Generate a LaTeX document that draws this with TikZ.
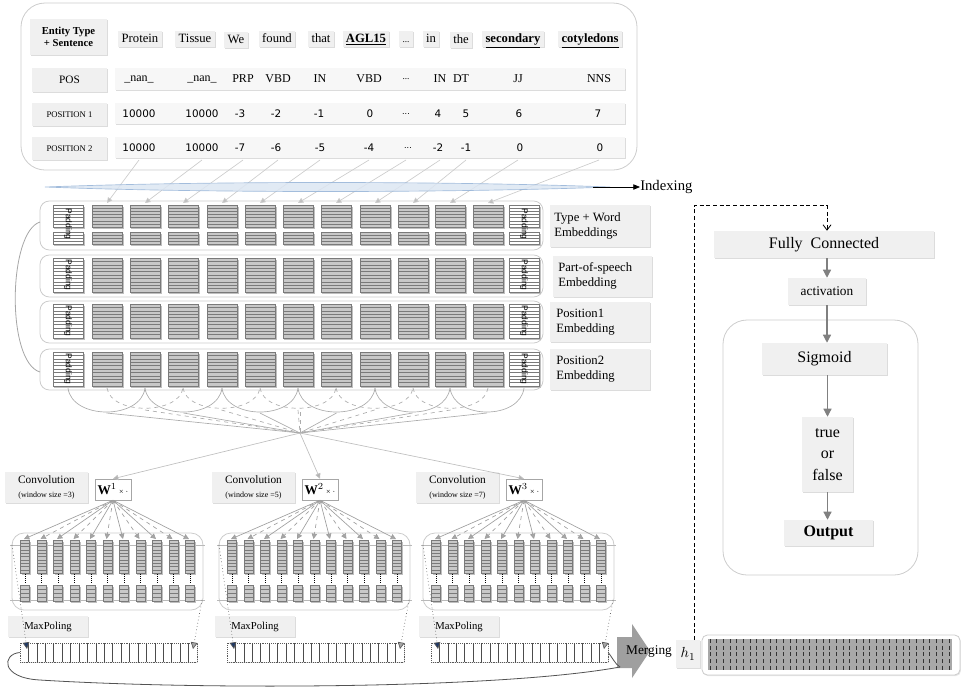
\documentclass[tikz,border=0pt]{standalone}
\usepackage{fontspec}
\setmainfont{Liberation Serif}
\newfontfamily\numfont{DejaVu Sans}
\newfontfamily\padfont{Liberation Sans}
\usetikzlibrary{shadows,arrows.meta,calc}
\definecolor{lblfill}{HTML}{F0F0F0}
\definecolor{stripfill}{HTML}{F7F7F7}
\definecolor{blk}{HTML}{C8C8C8}
\definecolor{blkline}{HTML}{7A7A7A}
\definecolor{arrc}{HTML}{808080}
\definecolor{idxfill}{HTML}{DCE6F2}
\definecolor{idxline}{HTML}{95B3D7}
\definecolor{vecfill}{HTML}{A8A8A8}
\definecolor{navyc}{HTML}{1F3864}
\newcommand{\FS}[2]{\fontsize{#1}{#2}\selectfont}
\newcommand{\StripeBox}[6]{%
  \fill[black!25] (#1+1,#2+2) rectangle (#3+1.5,#4+2);
  \filldraw[fill=#5,draw=blkline,line width=0.35pt] (#1,#2) rectangle (#3,#4);
  \foreach \kk in {1,...,#6}{\draw[blkline,line width=0.3pt] (#1,{#2+\kk*(#4-#2)/(#6+1)}) -- (#3,{#2+\kk*(#4-#2)/(#6+1)});}%
}
% box node from corner (#2,#3) to (#4,#5) in pixel units
\newcommand{\Bx}[7]{\node[#6,minimum width={(#4-(#2))*0.75pt},minimum height={(#5-(#3))*0.75pt}] (#1) at ({(#2+#4)/2},{(#3+#5)/2}) {#7};}
\begin{document}
\begin{tikzpicture}[x=0.75pt,y=-0.75pt,
  shd/.style={drop shadow={shadow xshift=0.7pt,shadow yshift=-0.9pt,opacity=0.28}},
  lbl/.style={fill=lblfill,inner sep=0pt,align=center,shd},
  wbox/.style={fill=lblfill,inner xsep=2.5pt,inner ysep=1.5pt,text height=7pt,text depth=2pt,font=\FS{9.5}{11},shd},
  strip/.style={fill=stripfill,inner sep=0pt,shd},
  panelc/.style={draw=gray!40,line width=0.6pt},
  garrow/.style={draw=arrc,line width=0.9pt,-{Triangle[length=6pt,width=6pt]}},
  idxarrow/.style={draw=gray!40,line width=0.5pt,-{Triangle[length=4pt,width=4pt,fill=gray!55]}},
  fanarrow/.style={draw=gray!75,line width=0.5pt,-{Triangle[length=4pt,width=4pt,fill=gray!70]}},
  cvline/.style={draw=gray!65,line width=0.5pt},
  val/.style={inner sep=0pt,font=\FS{9}{10}},
  num/.style={inner sep=0pt,font=\numfont\FS{7.8}{9}},
  padtxt/.style={rotate=-90,inner sep=0pt,font=\padfont\FS{6.3}{7}},
  etxt/.style={anchor=west,inner sep=0pt,align=left,font=\FS{9.5}{11.5}}
]
\useasboundingbox (0,0) rectangle (966,693);

% ---------------- top panel ----------------
\draw[panelc,rounded corners=18pt] (21,3) rectangle (637,170);
\foreach \sx/\tx [count=\i] in {139/107,202/145,243/183,278/222,320/260,369/298,406/336,440/375,466/413,518/450,599/488}{
  \coordinate (s\i) at (\sx,160);
  \coordinate (ct\i) at (\tx,203);
  \draw[idxarrow] (s\i) -- (ct\i);
}
\filldraw[fill=idxfill,draw=idxline,line width=0.5pt,opacity=0.85] (45,187) .. controls (200,181) and (450,181) .. (610,187) .. controls (450,193) and (200,193) .. (45,187);
\coordinate (idxr) at (593,187);
\node[anchor=west,inner sep=0pt,font=\FS{11}{13}] (indexing) at (640,187) {Indexing};
\draw[black,line width=0.6pt,-{Triangle[length=5pt,width=4pt]}] (idxr) -- (indexing.west);

\Bx{etype}{30}{19}{107}{55}{lbl,font=\bfseries\FS{8}{9.5}}{Entity Type\\+ Sentence}
\node[wbox] (w1) at (140,39) {Protein};
\node[wbox] (w2) at (195,39) {Tissue};
\node[wbox] (w3) at (236,40) {We};
\node[wbox] (w4) at (277,39) {found};
\node[wbox] (w5) at (321,39) {that};
\node[wbox] (w6) at (366,39) {\textbf{\underline{AGL15}}};
\node[wbox] (w7) at (406,39) {\FS{7}{8}...};
\node[wbox] (w8) at (431,39) {in};
\node[wbox] (w9) at (461,40) {the};
\node[wbox] (w10) at (513,39) {\textbf{\underline{secondary}}};
\node[wbox] (w11) at (590,39) {\textbf{\underline{cotyledons}}};

\Bx{poslbl}{32}{68}{107}{92}{lbl,font=\FS{8.5}{10}}{POS}
\Bx{p1lbl}{32}{103}{107}{126}{lbl,font=\FS{6.5}{8}}{POSITION\ 1}
\Bx{p2lbl}{32}{137}{107}{160}{lbl,font=\FS{6.5}{8}}{POSITION\ 2}
\Bx{posrow}{115}{68}{625}{90}{strip}{}
\Bx{p1row}{115}{103}{625}{124}{strip}{}
\Bx{p2row}{115}{137}{625}{158}{strip}{}
\foreach \x/\t in {139/\_nan\_,202/\_nan\_,243/PRP,278/VBD,320/IN,369/VBD,440/IN,461/DT,518/JJ,599/NNS}{
  \node[val] at (\x,79) {\t};
}
\node[val,font=\FS{7}{8}] (posdots) at (406,79) {...};
\foreach \x/\t in {139/10000,202/10000,240/-3,276/-2,319/-1,370/0,438/4,466/5,519/6,598/7}{
  \node[num] at (\x,114) {\t};
}
\node[num,font=\numfont\FS{6}{7}] (p1dots) at (406,114) {...};
\foreach \x/\t in {139/10000,202/10000,240/-7,276/-6,320/-5,369/-4,438/-2,466/-1,520/0,600/0}{
  \node[num] at (\x,148) {\t};
}
\node[num,font=\numfont\FS{6}{7}] (p2dots) at (408,148) {...};

% ---------------- embeddings ----------------
\draw[panelc,rounded corners=7pt] (40,201) rectangle (543,250);
\draw[panelc,rounded corners=7pt] (40,255) rectangle (543,297);
\draw[panelc,rounded corners=7pt] (40,301) rectangle (543,343);
\draw[panelc,rounded corners=7pt] (40,349) rectangle (543,390);
\foreach \cx in {107,145,183,222,260,298,336,375,413,450,488}{
  \StripeBox{\cx-15}{205}{\cx+15}{227}{blk}{6}
  \StripeBox{\cx-15}{232}{\cx+15}{244}{blk}{3}
  \StripeBox{\cx-15}{258}{\cx+15}{292}{blk}{9}
  \StripeBox{\cx-15}{304}{\cx+15}{338}{blk}{9}
  \StripeBox{\cx-15}{352}{\cx+15}{386}{blk}{9}
}
\foreach \cx in {68,524}{
  \StripeBox{\cx-15}{205}{\cx+15}{227}{white}{6}
  \StripeBox{\cx-15}{232}{\cx+15}{244}{white}{3}
  \StripeBox{\cx-15}{258}{\cx+15}{292}{white}{9}
  \StripeBox{\cx-15}{304}{\cx+15}{338}{white}{9}
  \StripeBox{\cx-15}{352}{\cx+15}{386}{white}{9}
  \node[padtxt] at (\cx,224) {Padding};
  \node[padtxt] at (\cx,275) {Padding};
  \node[padtxt] at (\cx,321) {Padding};
  \node[padtxt] at (\cx,369) {Padding};
}
\Bx{e1}{550}{205}{650}{247}{lbl}{}
\Bx{e2}{553}{256}{652}{297}{lbl}{}
\Bx{e3}{550}{302}{650}{342}{lbl}{}
\Bx{e4}{550}{349}{650}{390}{lbl}{}
\node[etxt] (e1t) at (554,226) {Type + Word\\Embeddings};
\node[etxt] (e2t) at (558,276) {Part-of-speech\\Embedding};
\node[etxt] (e3t) at (556,322) {Position1\\Embedding};
\node[etxt] (e4t) at (556,369) {Position2\\Embedding};
\draw[gray!70,line width=0.6pt] (40,222) .. controls (8,232) and (6,362) .. (40,372);

% arcs under embeddings
\coordinate (cv) at (300,433);
\foreach \a/\bb in {68/145,145/222,222/298,298/375,375/450,450/524}{
  \draw[cvline] (\a,388) .. controls (\a+4,420) and (\bb-4,420) .. (\bb,388);
  \coordinate (sb) at ({(\a+\bb)/2},413);
  \draw[cvline] (sb) -- (cv);
}
\foreach \a/\bb in {107/183,183/260,260/336,336/413,413/488}{
  \draw[cvline,dashed] (\a,388) .. controls (\a+4,415) and (\bb-4,415) .. (\bb,388);
  \coordinate (db) at ({(\a+\bb)/2},410);
  \draw[cvline,dashed] (db) -- (cv);
}
\draw[cvline,dashed] (300,412) -- (cv);

% ---------------- convolution sections ----------------
\foreach \b/\n/\ws in {0/1/3,207/2/5,411/3/7}{
  \Bx{cl\n}{\b+5}{472}{\b+88}{503}{lbl}{{\FS{8.5}{10}Convolution}\\[-1pt]{\FS{6}{7}(window size =\ws)}}
  \Bx{W\n}{\b+95}{479}{\b+131}{500}{fill=white,draw=gray!70,inner sep=0pt,shd}{$\mathbf{W}^{\n}$\,{\FS{6}{7}× ·}}
  \draw[draw=gray!50,line width=0.5pt,-{Triangle[length=4pt,width=4pt,fill=gray!60]}] (cv) -- (W\n.north);
  \draw[panelc,rounded corners=9pt] (\b+12,533) rectangle (\b+203,610);
  \draw[gray!55,line width=0.4pt] (\b+10,545) -- (\b+205,545);
  \draw[gray!55,line width=0.4pt] (\b+10,600) -- (\b+205,600);
  \foreach \k in {0,...,10}{
    \pgfmathsetmacro\cx{\b+25+16.5*\k}
    \StripeBox{\cx-4.5}{540}{\cx+4.5}{573}{blk}{9}
    \StripeBox{\cx-4.5}{585}{\cx+4.5}{601}{blk}{3}
    \draw[black,densely dotted,line width=0.5pt] (\cx,574) -- (\cx,584);
    \coordinate (t\n-\k) at (\cx-1,539);
  }
  \foreach \k in {0,2,...,10}{\draw[fanarrow] (W\n.south) -- (t\n-\k);}
  \foreach \k in {1,3,...,9}{\draw[fanarrow,dashed] (W\n.south) -- (t\n-\k);}
  \Bx{mp\n}{\b+8}{616}{\b+88}{637}{lbl}{}
  \node[anchor=west,inner sep=0pt,font=\FS{8}{9}] (mpt\n) at (\b+24,627) {MaxPoling};
  \Bx{v\n}{\b+20}{643}{\b+197}{662}{fill=white,draw=gray!70!black,densely dotted,inner sep=0pt,shd}{}
  \foreach \j in {1,...,20}{\draw[gray!60!black,line width=0.4pt] (\b+20+\j*8.43,643) -- (\b+20+\j*8.43,662);}
  \coordinate (pl\n) at (\b+12,545);
  \coordinate (vl\n) at (\b+27,649);
  \coordinate (pr\n) at (\b+202,600);
  \coordinate (vr\n) at (\b+193,649);
  \draw[gray!70!black,dotted,line width=0.5pt,-{Triangle[length=5pt,width=5pt,fill=navyc]}] (pl\n) -- (vl\n);
  \draw[gray!70!black,dotted,line width=0.5pt,-{Triangle[length=5pt,width=5pt,fill=gray!70]}] (pr\n) -- (vr\n);
}

% ---------------- merging ----------------
\fill[gray!75] (617,637) -- (632,637) -- (632,624) -- (650,651) -- (632,678) -- (632,668) -- (617,668) -- cycle;
\node[inner sep=0pt,font=\FS{10}{12}] (merge) at (649,652) {Merging};
\coordinate (mgl) at (620,667);
\draw[gray!65!black,line width=0.6pt] (v1.west) .. controls (2,654) and (0,678) .. (40,680) .. controls (200,690) and (500,689) .. (mgl);
\draw[gray!65!black,line width=0.6pt] (v3.east) .. controls (612,657) and (615,664) .. (mgl);

\Bx{h1}{676}{640}{700}{668}{lbl,font=\FS{11}{12}}{$h_1$}
\draw[panelc,fill=white,rounded corners=4pt,drop shadow={shadow xshift=0.7pt,shadow yshift=-0.9pt,opacity=0.2}] (702,635) rectangle (960,675);
\fill[vecfill] (708,639) rectangle (952,670);
\foreach \i in {0,...,36}{\draw[black!80,densely dashed,line width=0.45pt] (710+\i*6.65,639) -- (710+\i*6.65,670);}

% ---------------- classifier ----------------
\Bx{fc}{714}{231}{934}{258}{lbl,font=\FS{12}{14}}{Fully\ \ Connected}
\Bx{act}{788}{278}{866}{305}{lbl,font=\FS{10}{12}}{activation}
\draw[panelc,rounded corners=18pt] (723,320) rectangle (918,575);
\Bx{sig}{762}{343}{887}{375}{lbl,font=\FS{12}{14}}{Sigmoid}
\Bx{tf}{802}{417}{853}{492}{lbl,font=\FS{12}{16}}{true\\or\\false}
\Bx{out}{784}{520}{873}{546}{lbl,font=\bfseries\FS{12}{14}}{Output}
\draw[garrow] (fc.south -| act.north) -- (act.north);
\draw[garrow] (act.south) -- (act.south |- sig.north);
\draw[garrow] (sig.south -| tf.north) -- (tf.north);
\draw[garrow] (tf.south) -- (tf.south |- out.north);
\coordinate (hcon) at (694,640);
\draw[black,densely dashed,line width=0.6pt,-{Straight Barb[length=4pt,width=6pt]}] (hcon) |- ($(fc.north)+(3,-25)$) -- ($(fc.north)+(3,0)$);
\end{tikzpicture}
\end{document}
